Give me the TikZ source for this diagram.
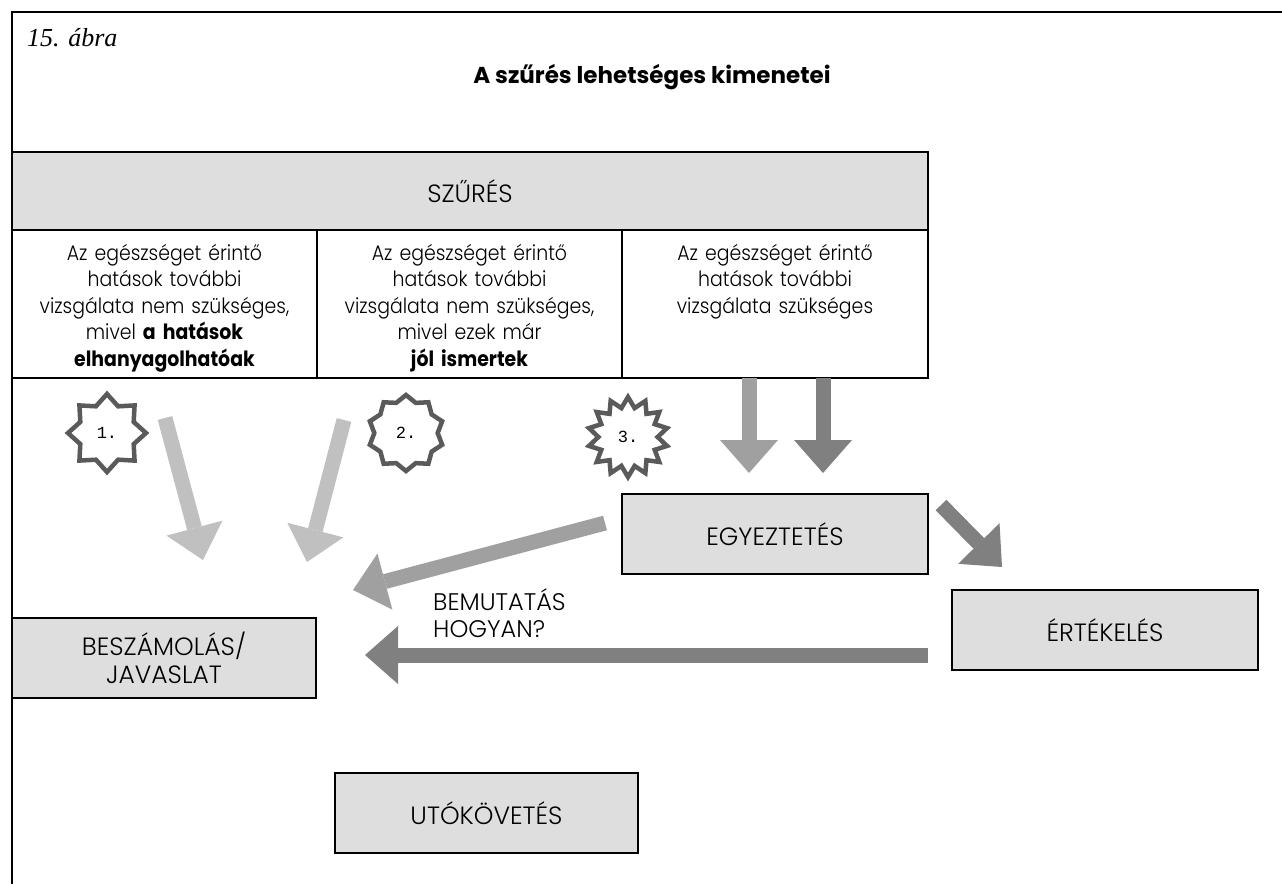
\documentclass[tikz,border=0pt]{standalone}
\usepackage{fontspec}
\setmainfont{Poppins Light}[BoldFont={Poppins Bold}]
\newfontfamily\cellfont{Poppins Light}[FakeStretch=0.9,BoldFont={Poppins Bold},BoldFeatures={FakeStretch=0.9}]
\newfontfamily\figfont{Liberation Serif}
\newfontfamily\numfont{Liberation Mono}
\usetikzlibrary{arrows.meta,shapes.geometric}
\definecolor{boxgray}{HTML}{DEDEDE}
\definecolor{lightarr}{HTML}{C0C0C0}
\definecolor{midarr}{HTML}{A0A0A0}
\definecolor{darkarr}{HTML}{808080}
\definecolor{starline}{HTML}{5A5A5A}

\begin{document}
\begin{tikzpicture}[x=1pt,y=-1pt,
  graybox/.style={draw=black,line width=2.5pt,fill=boxgray,inner sep=0pt,
    align=center,font=\fontsize{25}{28}\selectfont},
  cellbox/.style={draw=black,line width=2pt,inner sep=0pt},
  celltext/.style={font=\cellfont\fontsize{21}{26.5}\selectfont,align=center,
    text width=296pt,inner sep=0pt,anchor=base},
  blockarrow/.style={line width=15pt,line cap=butt,
    -{Triangle[width=58pt,length=33pt,line width=0pt]}},
  burst/.style={star,draw=starline,fill=white,line width=4.5pt,inner sep=0pt,
    font=\numfont\fontsize{17}{17}\selectfont}
]
\path[use as bounding box] (0,0) rectangle (1282,884);

% frame (top and left edges only)
\draw[line width=2.5pt] (12,884) -- (12,12) -- (1282,12);

% headings
\node[anchor=base west,inner sep=0pt,font=\figfont\itshape\fontsize{26}{26}\selectfont]
  (fig) at (27,46) {15. ábra};
\node[anchor=base,inner sep=0pt,font=\bfseries\fontsize{23}{23}\selectfont]
  (title) at (652,83) {A szűrés lehetséges kimenetei};

% screening box and its three outcomes
\node[graybox,minimum width=916pt,minimum height=78pt] (szures) at (470,191) {SZŰRÉS};
\node[cellbox,minimum width=305pt,minimum height=148pt] (c1) at (164.5,304) {};
\node[cellbox,minimum width=305pt,minimum height=148pt] (c2) at (469.5,304) {};
\node[cellbox,minimum width=306pt,minimum height=148pt] (c3) at (775,304) {};

% (with a text width the base anchor sits on the first line)
\node[celltext] (t1) at (c1.center |- 0,260)
  {Az egészséget érintő\\hatások további\\vizsgálata nem szükséges,\\mivel \textbf{a hatások}\\\textbf{elhanyagolhatóak}};
\node[celltext] (t2) at (c2.center |- 0,260)
  {Az egészséget érintő\\hatások további\\vizsgálata nem szükséges,\\mivel ezek már\\\textbf{jól ismertek}};
\node[celltext] (t3) at (c3.center |- 0,260)
  {Az egészséget érintő\\hatások további\\vizsgálata szükséges};

% numbered bursts
\node[burst,star points=8,star point ratio=1.35,minimum size=78pt] (s1) at (107,433) {1.};
\node[burst,star points=10,star point ratio=1.2,minimum size=76pt] (s2) at (406,433) {2.};
\node[burst,star points=14,star point ratio=1.35,minimum size=80pt] (s3) at (628,437) {3.};

% process boxes
\node[graybox,minimum width=306pt,minimum height=80pt] (egyez) at (775,534) {EGYEZTETÉS};
\node[graybox,minimum width=306pt,minimum height=80pt] (ertek) at (1105,630) {ÉRTÉKELÉS};
\node[graybox,minimum width=304pt,minimum height=80pt] (besz) at (164,658) {BESZÁMOLÁS/\\JAVASLAT};
\node[graybox,minimum width=303pt,minimum height=80pt] (utok) at (486.5,813) {UTÓKÖVETÉS};

\node[anchor=base west,inner sep=0pt,align=left,font=\fontsize{24}{27}\selectfont]
  (bemut) at (433,637) {BEMUTATÁS\\HOGYAN?};

% arrow end points
\coordinate (a1s) at (165,418);  \coordinate (a1e) at (203,560);
\coordinate (a2s) at (344,420);  \coordinate (a2e) at (307,562);
\coordinate (a3s) at (605,523);  \coordinate (a3e) at (353,590);
\coordinate (d1s) at (749,378);  \coordinate (d1e) at (749,473);
\coordinate (d2s) at (823,378);  \coordinate (d2e) at (823,473);
\coordinate (e1s) at (941,505);  \coordinate (e1e) at (1002,567);
\coordinate (b1s) at (928,655);  \coordinate (b1e) at (365,655);

% block arrows
\draw[blockarrow,lightarr] (a1s) -- (a1e);
\draw[blockarrow,lightarr] (a2s) -- (a2e);
\draw[blockarrow,midarr] (a3s) -- (a3e);
\draw[blockarrow,midarr] (d1s) -- (d1e);
\draw[blockarrow,darkarr] (d2s) -- (d2e);
\draw[blockarrow,darkarr] (e1s) -- (e1e);
\draw[blockarrow,darkarr] (b1s) -- (b1e);
\end{tikzpicture}
\end{document}
